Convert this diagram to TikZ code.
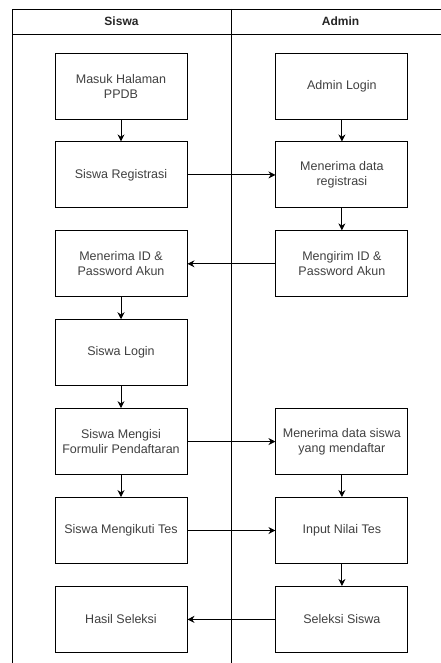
\documentclass[tikz,border=0pt]{standalone}
\usepackage{fontspec}
\setmainfont{Liberation Sans}
\usetikzlibrary{arrows.meta}
\usetikzlibrary{positioning}

\begin{document}
\begin{tikzpicture}[x=1pt,y=-1pt, line width=0.9pt]
		\tikzstyle{proses}=[draw=black,rectangle,minimum width=132pt,minimum height=66pt,align=center,text=black!75,font=\fontsize{12.5}{15}\selectfont,inner sep=2pt]
		\tikzstyle{judul}=[font=\fontsize{12}{14}\selectfont\bfseries,text=black!85]
		\tikzstyle{panah}=[-{Stealth[length=7pt,width=7pt]}]
		\useasboundingbox (0,0) rectangle (440,663);
		% swimlane
		\draw (12,663) -- (12,9) -- (450,9);
		\draw (12,34) -- (450,34);
		\draw (231,9) -- (231,663);
		\node[judul] (hsiswa) at (121.5,21.5) {Siswa};
		\node[judul] (hadmin) at (340.5,21.5) {Admin};
		% siswa
		\node[proses] (masuk) at (121,86) {Masuk Halaman\\PPDB};
		\node[proses, below=22pt of masuk] (sregis) {Siswa Registrasi};
		\node[proses, below=22pt of sregis] (terimaid) {Menerima ID \&\\Password Akun};
		\node[proses, below=22pt of terimaid] (slogin) {Siswa Login};
		\node[proses, below=22pt of slogin] (isi) {Siswa Mengisi\\Formulir Pendaftaran};
		\node[proses, below=22pt of isi] (tes) {Siswa Mengikuti Tes};
		\node[proses, below=22pt of tes] (hasil) {Hasil Seleksi};
		% admin
		\node[proses, right=88pt of masuk] (alogin) {Admin Login};
		\node[proses, right=88pt of sregis] (terimaregis) {Menerima data\\registrasi};
		\node[proses, right=88pt of terimaid] (kirimid) {Mengirim ID \&\\Password Akun};
		\node[proses, right=88pt of isi] (terimadata) {Menerima data siswa\\yang mendaftar};
		\node[proses, right=88pt of tes] (nilai) {Input Nilai Tes};
		\node[proses, right=88pt of hasil] (seleksi) {Seleksi Siswa};
		% alur
		\draw[panah] (masuk) -- (sregis);
		\draw[panah] (terimaid) -- (slogin);
		\draw[panah] (slogin) -- (isi);
		\draw[panah] (isi) -- (tes);
		\draw[panah] (alogin) -- (terimaregis);
		\draw[panah] (terimaregis) -- (kirimid);
		\draw[panah] (terimadata) -- (nilai);
		\draw[panah] (nilai) -- (seleksi);
		\draw[panah] (sregis) -- (terimaregis);
		\draw[panah] (kirimid) -- (terimaid);
		\draw[panah] (isi) -- (terimadata);
		\draw[panah] (tes) -- (nilai);
		\draw[panah] (seleksi) -- (hasil);
	\end{tikzpicture}
\end{document}
